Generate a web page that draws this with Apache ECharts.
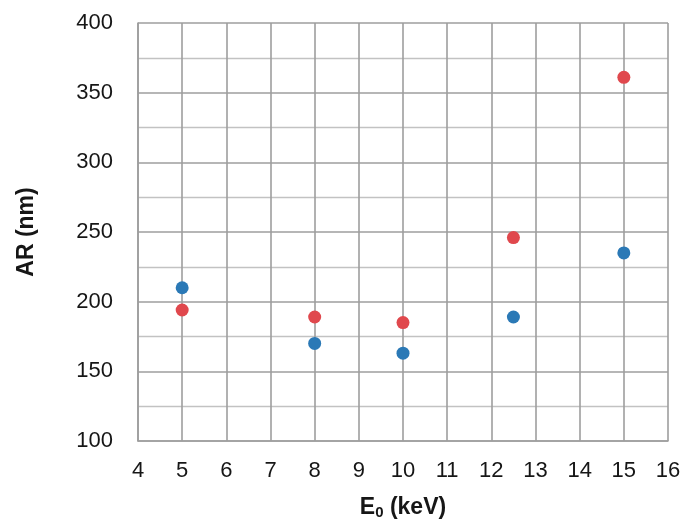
<!DOCTYPE html>
<html>
<head>
<meta charset="utf-8">
<script src="https://cdn.jsdelivr.net/npm/echarts@6/dist/echarts.min.js"></script>
<style>
  html, body { margin: 0; padding: 0; background: #fff; }
  #chart { width: 687px; height: 520px; }
</style>
</head>
<body>
<div id="chart"></div>
<script>
// Beam energy (keV) and measured AR values (nm) for the two sample sets
const energies = [5, 8, 10, 12.5, 15];
const redValues = [194, 189, 185, 246, 361];
const blueValues = [210, 170, 163, 189, 235];

const xTicks = { min: 4, max: 16, interval: 1 };
const yTicks = { min: 100, max: 400, interval: 50 };

const gridColor = '#9e9e9e';
const textColor = '#161616';
const font = 'Liberation Sans, Arial, sans-serif';

function pairs(xs, ys) {
  return xs.map((x, i) => [x, ys[i]]);
}

const chart = echarts.init(document.getElementById('chart'), null, { renderer: 'canvas' });
chart.setOption({
  animation: false,
  backgroundColor: '#ffffff',
  grid: { left: 138, right: 19, top: 23, bottom: 79, containLabel: false, outerBoundsMode: 'none' },
  xAxis: {
    type: 'value',
    min: xTicks.min, max: xTicks.max, interval: xTicks.interval,
    axisLine: { show: true, lineStyle: { color: gridColor, width: 1.6 } },
    axisTick: { show: false },
    splitLine: { show: true, lineStyle: { color: gridColor, width: 1.6 } },
    axisLabel: { color: textColor, fontSize: 22, fontFamily: font, margin: 19 },
    name: '{b|E}{s|0}{b| (keV)}',
    nameLocation: 'middle',
    nameGap: 55,
    nameTextStyle: {
      rich: {
        b: { fontSize: 23, fontWeight: 'bold', fontFamily: font, color: textColor },
        s: { fontSize: 15, fontWeight: 'bold', fontFamily: font, color: textColor, verticalAlign: 'bottom', padding: [9, 0, 0, 0] }
      }
    }
  },
  yAxis: {
    type: 'value',
    min: yTicks.min, max: yTicks.max, interval: yTicks.interval,
    axisLine: { show: true, lineStyle: { color: gridColor, width: 1.6 } },
    axisTick: { show: false },
    splitLine: { show: true, lineStyle: { color: gridColor, width: 1.6 } },
    minorTick: { show: false, splitNumber: 2 },
    minorSplitLine: { show: true, lineStyle: { color: '#c2c2c2', width: 1.3 } },
    axisLabel: { color: textColor, fontSize: 22, fontFamily: font, margin: 25 },
    name: 'AR (nm)',
    nameLocation: 'middle',
    nameGap: 100,
    nameTextStyle: { fontSize: 23, fontWeight: 'bold', fontFamily: font, color: textColor }
  },
  series: [
    {
      type: 'scatter',
      data: pairs(energies, redValues),
      symbolSize: 13,
      itemStyle: { color: '#e0484d', opacity: 1 }
    },
    {
      type: 'scatter',
      data: pairs(energies, blueValues),
      symbolSize: 13,
      itemStyle: { color: '#2b79b6', opacity: 1 }
    }
  ]
});
</script>
</body>
</html>
